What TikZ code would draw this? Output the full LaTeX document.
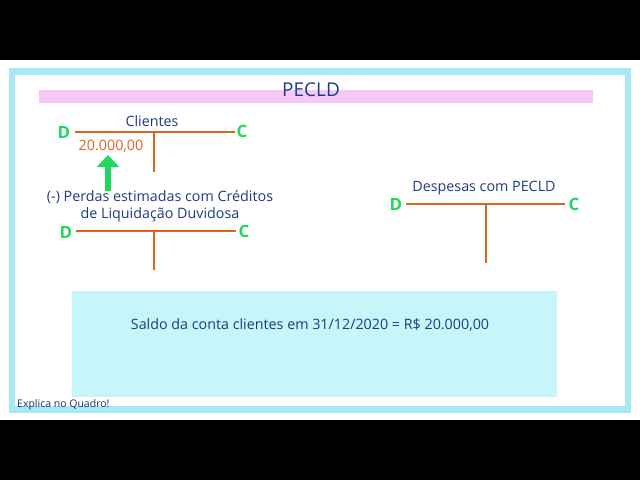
\documentclass[tikz,border=0pt]{standalone}
\usepackage{fontspec}
\setmainfont{Open Sans}
\usetikzlibrary{arrows.meta}
\definecolor{frameblue}{HTML}{A8E8F5}
\definecolor{pinkbar}{HTML}{F5C8F8}
\definecolor{boxcyan}{HTML}{C6F5FA}
\definecolor{tline}{HTML}{D8661E}
\definecolor{txtblue}{HTML}{1E3C82}
\definecolor{dcgreen}{HTML}{22D85C}
\definecolor{amount}{HTML}{D8661E}
\tikzset{
  tacc/.style={draw=tline, line width=1.8pt},
  lbl/.style={text=txtblue, font=\fontsize{14.3}{16.5}\selectfont, inner sep=0pt},
  dc/.style={text=dcgreen, font=\fontsize{17}{18}\selectfont\bfseries, inner sep=0pt},
}
\begin{document}
\begin{tikzpicture}[x=1pt,y=-1pt]
\useasboundingbox (0,0) rectangle (640,480);
\fill[black] (0,0) rectangle (640,480);
\fill[white] (0,60) rectangle (640,420);
\fill[frameblue] (9,68) rectangle (631,413);
\fill[white] (15,75) rectangle (625,406);
% title bar
\fill[pinkbar] (39,90) rectangle (593,103);
\node[text=txtblue, font=\fontsize{19}{21}\selectfont, inner sep=0pt] (title) at (311,90) {PECLD};
% Clientes T account
\coordinate (c1l) at (75,132);
\coordinate (c1r) at (235,132);
\coordinate (c1t) at (154,132);
\coordinate (c1b) at (154,172);
\draw[tacc] (c1l) -- (c1r);
\draw[tacc] (c1t) -- (c1b);
\node[lbl] (clientes) at (152,121) {Clientes};
\node[dc] (d1) at (64,132) {D};
\node[dc] (cc1) at (242,131) {C};
\node[text=amount, font=\fontsize{14.3}{16}\selectfont, inner sep=0pt] (val) at (111,146) {20.000,00};
% green arrow
\coordinate (ab) at (108,191);
\coordinate (at) at (108,155);
\draw[dcgreen, line width=5.5pt, -{Triangle[width=22pt,length=12pt]}] (ab) -- (at);
% PECLD T account
\node[lbl, align=center] (perdas) at (160,206) {(-) Perdas estimadas com Créditos\\de Liquidação Duvidosa};
\coordinate (c2l) at (76,231);
\coordinate (c2r) at (236,231);
\coordinate (c2t) at (154,231);
\coordinate (c2b) at (154,270);
\draw[tacc] (c2l) -- (c2r);
\draw[tacc] (c2t) -- (c2b);
\node[dc] (d2) at (66,232) {D};
\node[dc] (cc2) at (244,231) {C};
% Despesas T account
\node[lbl] (desp) at (484,188) {Despesas com PECLD};
\coordinate (c3l) at (406,204);
\coordinate (c3r) at (565,204);
\coordinate (c3t) at (486,204);
\coordinate (c3b) at (486,263);
\draw[tacc] (c3l) -- (c3r);
\draw[tacc] (c3t) -- (c3b);
\node[dc] (d3) at (396,204) {D};
\node[dc] (cc3) at (574,204) {C};
% info box
\fill[boxcyan] (72,291) rectangle (557,397);
\node[lbl] (saldo) at (310,325) {Saldo da conta clientes em 31/12/2020 = R\$ 20.000,00};
\node[text=txtblue!80!black, font=\fontsize{10.5}{12}\selectfont, inner sep=0pt, anchor=west] (expl) at (17,405) {Explica no Quadro!};
\end{tikzpicture}
\end{document}
